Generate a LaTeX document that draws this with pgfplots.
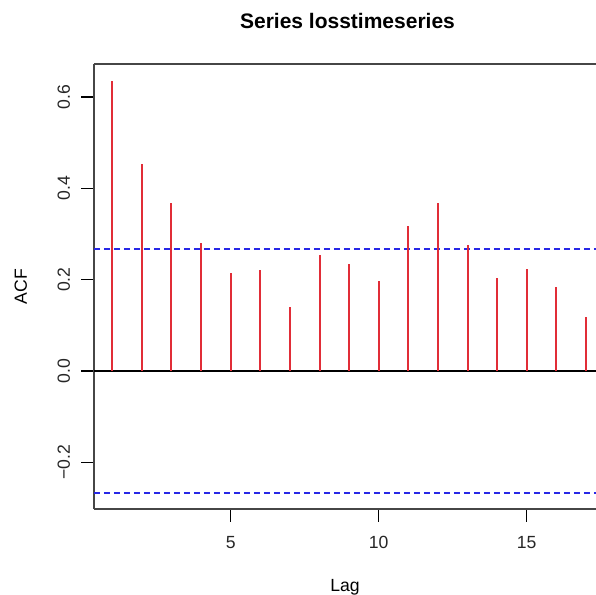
\documentclass[border=0pt]{standalone}
\usepackage{fontspec}
\setmainfont{Liberation Sans}
\usepackage{pgfplots}
\pgfplotsset{compat=1.18}

\definecolor{acfred}{RGB}{225,45,55}
\definecolor{acfblue}{RGB}{40,40,230}
\definecolor{boxgray}{RGB}{70,70,70}

\begin{document}
\begin{tikzpicture}
\useasboundingbox (-47pt,-43pt) rectangle (251pt,254.5pt);
\begin{axis}[
    scale only axis,
    width=251pt, height=222.25pt,
    xmin=0.382, xmax=17.34,
    ymin=-0.302, ymax=0.671,
    axis x line=box, axis y line=left,
    axis line style={boxgray, line width=1pt, -},
    tick align=outside,
    tick style={black, line width=0.7pt},
    major tick length=6.3pt,
    xtick pos=bottom, ytick pos=left,
    xtick={5,10,15},
    xticklabels={5,10,15},
    ytick={-0.2,0,0.2,0.4,0.6},
    yticklabels={−0.2,0.0,0.2,0.4,0.6},
    ticklabel style={font=\fontsize{8.8}{10}\selectfont, text=black!85},
    yticklabel style={rotate=90, anchor=base},
    xticklabel style={anchor=base},
    yticklabel shift=5.7pt,
    xticklabel shift=13.7pt,
    title={\textbf{Series losstimeseries}},
    title style={font=\fontsize{10.5}{12}\selectfont, anchor=base,
                 at={(axis description cs:0.505,1)}, yshift=11.75pt},
    xlabel={Lag},
    xlabel style={font=\fontsize{8.8}{10}\selectfont, anchor=base,
                  at={(axis description cs:0.5,0)}, yshift=-41.3pt},
    ylabel={ACF},
    ylabel style={font=\fontsize{8.8}{10}\selectfont, anchor=base, rotate=0,
                  at={(axis description cs:-0.1339,0.5)}},
    clip=false,
]
% significance bounds
\addplot[acfblue, line width=0.8pt, dash pattern=on 3pt off 2pt] coordinates {(0.382,0.267) (17.34,0.267)};
\addplot[acfblue, line width=0.8pt, dash pattern=on 3pt off 2pt] coordinates {(0.382,-0.267) (17.34,-0.267)};
% zero line
\addplot[black, line width=0.8pt] coordinates {(0.382,0) (17.34,0)};
% autocorrelations
\addplot[ycomb, acfred, line width=1pt, mark=none] coordinates {
    (1,0.635) (2,0.453) (3,0.368) (4,0.281) (5,0.215) (6,0.221)
    (7,0.141) (8,0.255) (9,0.234) (10,0.198) (11,0.318) (12,0.367)
    (13,0.275) (14,0.204) (15,0.224) (16,0.185) (17,0.119)
};
\end{axis}
\end{tikzpicture}
\end{document}
